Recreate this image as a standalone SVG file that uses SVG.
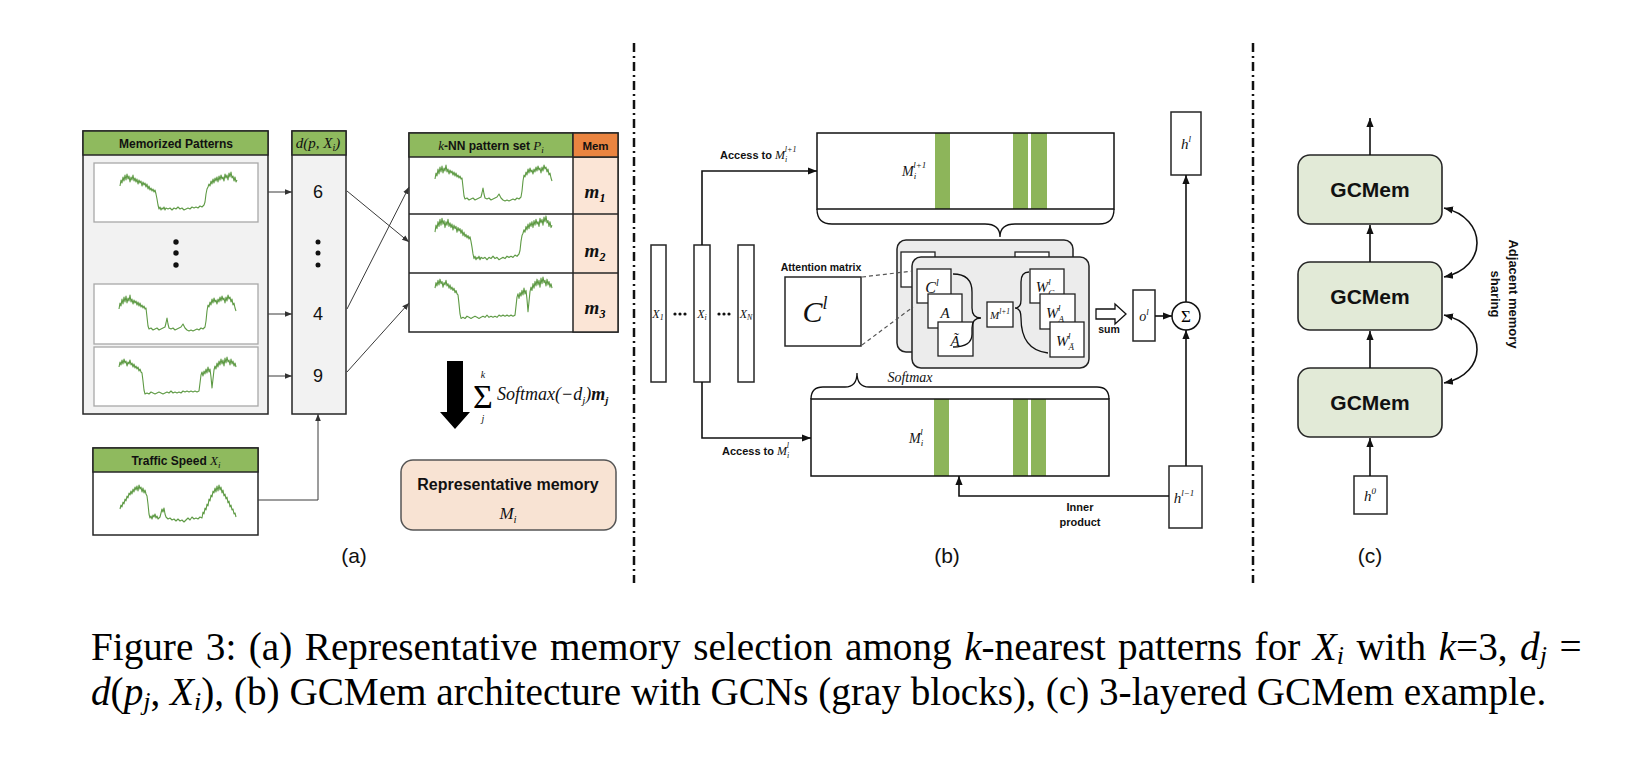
<svg xmlns="http://www.w3.org/2000/svg" width="1630" height="758" viewBox="0 0 1630 758">
<style>
.bx{fill:#fff;stroke:#262626;stroke-width:1.5}
.gr{fill:#f2f2f2;stroke:#262626;stroke-width:1.5}
.hd{fill:#8fba5e;stroke:#262626;stroke-width:1.5}
.pn{fill:#fff;stroke:#a8a8a8;stroke-width:1.3}
.wave{fill:none;stroke:#5e9a44;stroke-width:1.1;stroke-linejoin:round}
.b{font-family:"Liberation Sans",Arial,sans-serif;font-weight:bold;fill:#111}
.s{font-family:"Liberation Sans",Arial,sans-serif;fill:#111}
.m{font-family:"Liberation Serif","Times New Roman",serif;font-style:italic;font-weight:normal;fill:#111}
.r{font-family:"Liberation Serif","Times New Roman",serif;fill:#000}
.ca{fill:none;stroke:#3a3a3a;stroke-width:1}
.cb{fill:none;stroke:#111;stroke-width:1.6}
.br{fill:none;stroke:#111;stroke-width:1.3}
.stripe{fill:#8db55a}
.sep{fill:none;stroke:#111;stroke-width:2.5;stroke-dasharray:9 4 2 4}
.gcn{fill:#ececec;stroke:#222;stroke-width:1.5}
.sb{fill:#fff;stroke:#222;stroke-width:1.3}
.gcm{fill:#e2ead7;stroke:#262626;stroke-width:1.6}
.dash{fill:none;stroke:#555;stroke-width:1.2;stroke-dasharray:4 3}
</style>
<defs>
<marker id="arrA" markerUnits="userSpaceOnUse" markerWidth="7" markerHeight="7" viewBox="0 0 10 10" refX="10" refY="5" orient="auto"><path d="M0,1 L10,5 L0,9 z" fill="#333"/></marker>
<marker id="arrB" markerUnits="userSpaceOnUse" markerWidth="9" markerHeight="9" viewBox="0 0 10 10" refX="10" refY="5" orient="auto-start-reverse"><path d="M0,1 L10,5 L0,9 z" fill="#111"/></marker>
<path id="wA" d="M0,14 L1,8 2,11 3,5 4,9 5,3 6,8 7,2 8,7 9,4 10,10 11,5 12,8 13,3 14,9 15,6 16,10 17,7 18,12 19,8 20,11 21,9 22,14 23,10 24,13 25,11 26,15 27,12 28,17 29,14 30,18 31,16 32,19 33,17 34,20 35,18 36,22 37,27 38,33 39,37 40,35 41,38 42,36 43,37 44,35 45,38 46,36 48,37 50,36 52,38 54,36 56,37 58,35 60,37 62,36 64,38 66,37 68,36 70,37 72,35 74,36 76,35 78,36 80,34 82,35 84,33 85,30 86,22 87,17 88,15 89,12 90,14 91,9 92,12 93,7 94,11 95,6 96,9 97,5 98,10 99,4 100,8 101,3 102,7 103,5 104,9 105,2 106,6 107,3 108,8 109,1 110,5 111,0 112,6 113,4 114,9 115,5 116,10 117,8"/>
<path id="wB" d="M0,16 L1,10 2,13 3,6 4,11 5,4 6,9 7,3 8,10 9,5 10,8 11,2 12,9 13,6 14,11 15,7 16,10 17,8 18,12 19,9 20,13 21,10 22,14 23,12 24,15 25,13 26,16 27,15 28,24 29,33 30,36 32,35 34,37 36,36 38,35 40,37 42,36 44,35 46,34 47,30 48,25 49,31 50,35 52,36 54,35 56,37 58,36 60,35 62,34 64,31 65,33 66,35 68,37 70,38 72,37 74,38 76,37 78,36 80,37 82,35 84,36 86,34 87,28 88,18 89,12 90,14 91,9 92,12 93,6 94,10 95,5 96,9 97,7 98,11 99,6 100,9 101,4 102,8 103,3 104,7 105,5 106,10 107,4 108,8 109,2 110,6 111,4 112,9 113,6 114,12 115,10 116,15 117,18"/>
<path id="wC" d="M0,10 L1,5 2,8 3,3 4,7 5,2 6,6 7,4 8,9 9,5 10,7 11,3 12,8 13,6 14,10 15,7 16,11 17,9 18,12 19,10 20,14 21,12 22,15 23,16 24,24 25,33 26,37 28,36 30,37 32,35 34,36 36,37 38,36 40,35 42,36 44,37 46,36 48,35 50,36 52,34 54,36 56,35 58,36 60,35 62,36 64,34 66,35 68,34 70,35 72,34 74,35 76,34 78,35 80,34 81,26 82,18 83,15 84,19 85,14 86,17 87,12 88,16 89,10 90,15 91,12 92,20 93,31 94,22 95,13 96,9 97,12 98,6 99,10 100,4 101,8 102,2 103,7 104,3 105,9 106,1 107,6 108,0 109,5 110,3 111,8 112,2 113,7 114,4 115,9 116,6 117,10"/>
<path id="wD" d="M0,25 L1,21 2,23 3,18 4,20 5,15 6,17 7,12 8,14 9,9 10,11 11,7 12,10 13,5 14,8 15,3 16,6 17,2 18,7 19,1 20,5 21,3 22,8 23,4 24,9 25,6 26,10 27,12 28,20 29,30 30,34 31,32 32,35 33,31 34,33 35,30 36,34 37,32 38,35 40,33 42,25 43,28 44,24 45,30 46,33 48,35 50,34 52,36 54,35 56,37 58,35 60,37 62,36 64,38 66,36 68,34 70,36 72,33 74,35 76,34 78,35 80,33 82,34 83,28 84,30 85,24 86,26 87,20 88,22 89,15 90,17 91,11 92,13 93,7 94,9 95,4 96,8 97,2 98,7 99,1 100,6 101,3 102,9 103,6 104,12 105,10 106,15 107,13 108,19 109,17 110,23 111,21 112,26 113,25 114,30 115,29 116,33"/>
</defs>

<rect width="1630" height="758" fill="#fff"/>

<g id="separators">
<line x1="634" y1="43" x2="634" y2="583" class="sep"/>
<line x1="1253" y1="43" x2="1253" y2="583" class="sep"/>
</g>

<!-- Panel (a) -->
<g id="memorized-patterns">
<rect x="83" y="131" width="185" height="283" class="gr"/>
<rect x="83" y="131" width="185" height="24" class="hd"/>
<text x="176" y="147.5" class="b" font-size="12" text-anchor="middle">Memorized Patterns</text>
<rect x="94" y="163" width="164" height="59" class="pn"/>
<rect x="94" y="284" width="164" height="60" class="pn"/>
<rect x="94" y="347" width="164" height="59" class="pn"/>
<use href="#wA" transform="translate(120,172)" class="wave"/>
<use href="#wB" transform="translate(119,293)" class="wave"/>
<use href="#wC" transform="translate(119,357)" class="wave"/>
<circle cx="176" cy="242" r="2.7" fill="#111"/>
<circle cx="176" cy="253" r="2.7" fill="#111"/>
<circle cx="176" cy="265" r="2.7" fill="#111"/>
</g>

<g id="distance-column">
<rect x="292" y="131" width="54" height="283" class="gr"/>
<rect x="292" y="131" width="54" height="24" class="hd"/>
<text x="318" y="148" class="m" font-size="15" text-anchor="middle">d(p, X<tspan font-size="10" dy="3">i</tspan><tspan dy="-3">)</tspan></text>
<text x="318" y="198" class="s" font-size="18" text-anchor="middle">6</text>
<circle cx="318" cy="242" r="2.5" fill="#111"/>
<circle cx="318" cy="253" r="2.5" fill="#111"/>
<circle cx="318" cy="265" r="2.5" fill="#111"/>
<text x="318" y="320" class="s" font-size="18" text-anchor="middle">4</text>
<text x="318" y="382" class="s" font-size="18" text-anchor="middle">9</text>
</g>

<g id="knn-set">
<rect x="409" y="133" width="209" height="199" class="bx"/>
<rect x="573" y="157" width="45" height="175" fill="#fbe5d6" stroke="#262626" stroke-width="1.5"/>
<rect x="409" y="133" width="164" height="24" class="hd"/>
<rect x="573" y="133" width="45" height="24" fill="#ea8440" stroke="#262626" stroke-width="1.5"/>
<line x1="409" y1="214" x2="618" y2="214" stroke="#262626" stroke-width="1.5"/>
<line x1="409" y1="273" x2="618" y2="273" stroke="#262626" stroke-width="1.5"/>
<text x="491" y="149.5" font-size="12" text-anchor="middle"><tspan class="m" font-size="13">k</tspan><tspan class="b">-NN pattern set </tspan><tspan class="m" font-size="13">P</tspan><tspan class="m" font-size="9" dy="3">i</tspan></text>
<text x="595.5" y="149.5" class="b" font-size="11.5" text-anchor="middle">Mem</text>
<use href="#wB" transform="translate(435,163)" class="wave"/>
<use href="#wA" transform="translate(435,216) scale(1,1.15)" class="wave" vector-effect="non-scaling-stroke"/>
<use href="#wC" transform="translate(435,277) scale(1,1.12)" class="wave" vector-effect="non-scaling-stroke"/>
<text x="595" y="198" class="m" font-size="19" text-anchor="middle" style="font-weight:bold">m<tspan class="r" font-size="12" dy="4" style="font-weight:bold">1</tspan></text>
<text x="595" y="257" class="m" font-size="19" text-anchor="middle" style="font-weight:bold">m<tspan class="r" font-size="12" dy="4" style="font-weight:bold">2</tspan></text>
<text x="595" y="314" class="m" font-size="19" text-anchor="middle" style="font-weight:bold">m<tspan class="r" font-size="12" dy="4" style="font-weight:bold">3</tspan></text>
</g>

<g id="traffic-speed">
<rect x="93" y="448" width="165" height="87" class="bx"/>
<rect x="93" y="448" width="165" height="24" class="hd"/>
<text x="176" y="464.5" font-size="12" text-anchor="middle"><tspan class="b">Traffic Speed </tspan><tspan class="m" font-size="13">X</tspan><tspan class="m" font-size="9" dy="3">i</tspan></text>
<use href="#wD" transform="translate(120,484)" class="wave"/>
</g>

<g id="softmax-sum">
<polygon points="447,361 463,361 463,412 470,412 455,429 440,412 447,412" fill="#000"/>
<text x="483" y="408" class="r" font-size="34" text-anchor="middle">Σ</text>
<text x="483" y="378" class="m" font-size="10" text-anchor="middle">k</text>
<text x="483" y="422" class="m" font-size="10" text-anchor="middle">j</text>
<text x="497" y="400" class="m" font-size="18">Softmax(−d<tspan font-size="11" dy="4">j</tspan><tspan dy="-4">)</tspan><tspan style="font-weight:bold">m</tspan><tspan font-size="11" dy="4" style="font-weight:bold">j</tspan></text>
</g>

<g id="representative-memory">
<rect x="401" y="460" width="215" height="70" rx="12" fill="#f8e3d3" stroke="#555" stroke-width="1.5"/>
<text x="508" y="490" class="b" font-size="16" text-anchor="middle">Representative memory</text>
<text x="508" y="519" class="m" font-size="17" text-anchor="middle">M<tspan font-size="11" dy="4">i</tspan></text>
</g>

<g id="connectors-a">
<line x1="268" y1="192" x2="292" y2="192" class="ca" marker-end="url(#arrA)"/>
<line x1="268" y1="314" x2="292" y2="314" class="ca" marker-end="url(#arrA)"/>
<line x1="268" y1="376" x2="292" y2="376" class="ca" marker-end="url(#arrA)"/>
<line x1="347" y1="191" x2="409" y2="242" class="ca" marker-end="url(#arrA)"/>
<line x1="347" y1="309" x2="409" y2="187" class="ca" marker-end="url(#arrA)"/>
<line x1="347" y1="372" x2="409" y2="303" class="ca" marker-end="url(#arrA)"/>
<polyline points="258,500 318,500 318,414" class="ca" marker-end="url(#arrA)"/>
</g>

<!-- Panel (b) -->
<g id="inputs">
<rect x="651" y="245" width="15" height="137" class="bx"/>
<rect x="694" y="245" width="16" height="137" class="bx"/>
<rect x="738" y="245" width="16" height="137" class="bx"/>
<text x="658" y="318" class="m" font-size="12" text-anchor="middle">X<tspan font-size="8" dy="2">1</tspan></text>
<text x="702" y="318" class="m" font-size="12" text-anchor="middle">X<tspan font-size="8" dy="2">i</tspan></text>
<text x="746" y="318" class="m" font-size="12" text-anchor="middle">X<tspan font-size="8" dy="2">N</tspan></text>
<circle cx="675" cy="314" r="1.6" fill="#111"/><circle cx="680" cy="314" r="1.6" fill="#111"/><circle cx="685" cy="314" r="1.6" fill="#111"/>
<circle cx="719" cy="314" r="1.6" fill="#111"/><circle cx="724" cy="314" r="1.6" fill="#111"/><circle cx="729" cy="314" r="1.6" fill="#111"/>
</g>

<g id="memory-next">
<rect x="817" y="133" width="297" height="76" fill="#fff"/>
<rect x="935" y="133" width="15" height="76" class="stripe"/>
<rect x="1013" y="133" width="15" height="76" class="stripe"/>
<rect x="1031" y="133" width="16" height="76" class="stripe"/>
<rect x="817" y="133" width="297" height="76" fill="none" stroke="#111" stroke-width="1.5"/>
<text x="902" y="176" class="m" font-size="14">M<tspan font-size="9" dy="3">i</tspan><tspan font-size="9" dx="-3" dy="-11">l+1</tspan></text>
<path d="M817,209 Q817,224 832,224 L985,224 Q1000,224 1000,237 Q1000,224 1015,224 L1099,224 Q1114,224 1114,209" class="br"/>
</g>

<g id="memory-cur">
<rect x="811" y="399" width="298" height="77" fill="#fff"/>
<rect x="934" y="399" width="15" height="77" class="stripe"/>
<rect x="1013" y="399" width="15" height="77" class="stripe"/>
<rect x="1031" y="399" width="15" height="77" class="stripe"/>
<rect x="811" y="399" width="298" height="77" fill="none" stroke="#111" stroke-width="1.5"/>
<text x="909" y="443" class="m" font-size="14">M<tspan font-size="9" dy="3">i</tspan><tspan font-size="9" dx="-3" dy="-11">l</tspan></text>
<path d="M811,399 Q811,387 823,387 L845,387 Q857,387 857,373 Q857,387 869,387 L1097,387 Q1109,387 1109,399" class="br"/>
<text x="910" y="382" class="m" font-size="14" text-anchor="middle">Softmax</text>
</g>

<g id="attention-matrix">
<text x="821" y="271" class="b" font-size="10.5" text-anchor="middle">Attention matrix</text>
<rect x="785" y="277" width="76" height="69" class="bx"/>
<text x="815" y="322" class="m" font-size="30" text-anchor="middle">C<tspan font-size="18" dy="-13">l</tspan></text>
</g>

<g id="gcn-blocks">
<rect x="897" y="240" width="176" height="112" rx="9" class="gcn"/>
<rect x="901" y="252" width="34" height="35" class="sb"/>
<rect x="1015" y="252" width="34" height="35" class="sb"/>
<rect x="912" y="257" width="177" height="111" rx="9" class="gcn"/>
<rect x="917" y="269" width="34" height="34" class="sb"/>
<text x="932" y="293" class="m" font-size="16" text-anchor="middle">C<tspan font-size="10" dy="-7">l</tspan></text>
<rect x="928" y="294" width="34" height="34" class="sb"/>
<text x="945" y="318" class="m" font-size="15" text-anchor="middle">A</text>
<rect x="938" y="322" width="35" height="34" class="sb"/>
<text x="955" y="346" class="m" font-size="15" text-anchor="middle">Ã</text>
<path d="M953,274 Q972,274 972,292 L972,308 Q972,318 981,318 Q972,318 972,328 L972,334 Q972,347 953,347" class="br"/>
<rect x="987" y="302" width="26" height="25" class="sb"/>
<text x="1000" y="319" class="m" font-size="11" text-anchor="middle">M<tspan font-size="7.5" dy="-5">l+1</tspan></text>
<path d="M1029,272 Q1021,272 1021,282 L1021,300 Q1021,308 1015,308 Q1021,308 1021,318 Q1021,350 1048,353" class="br"/>
<rect x="1030" y="269" width="34" height="34" class="sb"/>
<text x="1045" y="292" class="m" font-size="15" text-anchor="middle">W<tspan font-size="9" dy="4">C</tspan><tspan font-size="9" dx="-6" dy="-11">l</tspan></text>
<rect x="1040" y="294" width="35" height="35" class="sb"/>
<text x="1055" y="318" class="m" font-size="15" text-anchor="middle">W<tspan font-size="9" dy="4">A</tspan><tspan font-size="9" dx="-6" dy="-11">l</tspan></text>
<rect x="1050" y="322" width="34" height="35" class="sb"/>
<text x="1065" y="346" class="m" font-size="15" text-anchor="middle">W<tspan font-size="9" dy="4">Ã</tspan><tspan font-size="9" dx="-6" dy="-11">l</tspan></text>
</g>

<g id="sum-output">
<polygon points="1096,309 1115,309 1115,304 1126,314 1115,324 1115,319 1096,319" fill="#fff" stroke="#111" stroke-width="1.3"/>
<text x="1109" y="333" class="b" font-size="10.5" text-anchor="middle">sum</text>
<rect x="1133" y="290" width="22" height="51" class="bx"/>
<text x="1144" y="321" class="m" font-size="14" text-anchor="middle">o<tspan font-size="9" dy="-6">l</tspan></text>
<circle cx="1186" cy="316" r="14" fill="#fff" stroke="#111" stroke-width="1.5"/>
<text x="1186" y="322" class="r" font-size="17" text-anchor="middle">Σ</text>
</g>

<g id="hidden-states">
<rect x="1171" y="112" width="30" height="63" class="bx"/>
<text x="1186" y="149" class="m" font-size="15" text-anchor="middle">h<tspan font-size="9" dy="-7">l</tspan></text>
<rect x="1169" y="466" width="33" height="62" class="bx"/>
<text x="1184" y="503" class="m" font-size="15" text-anchor="middle">h<tspan font-size="9" dy="-7">l−1</tspan></text>
</g>

<g id="connectors-b">
<polyline points="702,245 702,171 817,171" class="cb" marker-end="url(#arrB)"/>
<polyline points="702,382 702,438 811,438" class="cb" marker-end="url(#arrB)"/>
<line x1="862" y1="277" x2="913" y2="271" class="dash"/>
<line x1="862" y1="345" x2="913" y2="307" class="dash"/>
<line x1="1155" y1="316" x2="1172" y2="316" class="cb" marker-end="url(#arrB)"/>
<line x1="1186" y1="302" x2="1186" y2="175" class="cb" marker-end="url(#arrB)"/>
<line x1="1186" y1="466" x2="1186" y2="330" class="cb" marker-end="url(#arrB)"/>
<polyline points="1169,496 959,496 959,476" class="cb" marker-end="url(#arrB)"/>
<text x="720" y="159" class="b" font-size="11">Access to <tspan class="m" font-size="12">M</tspan><tspan class="m" font-size="8" dy="3">i</tspan><tspan class="m" font-size="8" dx="-2.5" dy="-10">l+1</tspan></text>
<text x="722" y="455" class="b" font-size="11">Access to <tspan class="m" font-size="12">M</tspan><tspan class="m" font-size="8" dy="3">i</tspan><tspan class="m" font-size="8" dx="-2.5" dy="-10">l</tspan></text>
<text x="1080" y="511" class="b" font-size="11" text-anchor="middle">Inner</text>
<text x="1080" y="526" class="b" font-size="11" text-anchor="middle">product</text>
</g>

<!-- Panel (c) -->
<g id="gcmem-3">
<rect x="1298" y="155" width="144" height="69" rx="12" class="gcm"/>
<text x="1370" y="197" class="b" font-size="21" text-anchor="middle">GCMem</text>
</g>
<g id="gcmem-2">
<rect x="1298" y="262" width="144" height="68" rx="12" class="gcm"/>
<text x="1370" y="303.5" class="b" font-size="21" text-anchor="middle">GCMem</text>
</g>
<g id="gcmem-1">
<rect x="1298" y="368" width="144" height="69" rx="12" class="gcm"/>
<text x="1370" y="410" class="b" font-size="21" text-anchor="middle">GCMem</text>
</g>
<g id="h0">
<rect x="1354" y="476" width="33" height="38" class="bx"/>
<text x="1370" y="501" class="m" font-size="15" text-anchor="middle">h<tspan font-size="9" dy="-7">0</tspan></text>
</g>
<g id="connectors-c">
<line x1="1370" y1="155" x2="1370" y2="118" class="cb" marker-end="url(#arrB)"/>
<line x1="1370" y1="262" x2="1370" y2="225" class="cb" marker-end="url(#arrB)"/>
<line x1="1370" y1="368" x2="1370" y2="331" class="cb" marker-end="url(#arrB)"/>
<line x1="1370" y1="476" x2="1370" y2="438" class="cb" marker-end="url(#arrB)"/>
<path d="M1444,208 C1488,218 1488,268 1444,277" class="cb" marker-start="url(#arrB)" marker-end="url(#arrB)"/>
<path d="M1444,315 C1488,325 1488,374 1444,383" class="cb" marker-start="url(#arrB)" marker-end="url(#arrB)"/>
<text transform="translate(1513,294) rotate(90)" class="b" font-size="13" text-anchor="middle"><tspan x="0" y="4.5">Adjacent memory</tspan><tspan x="0" y="22.5">sharing</tspan></text>
</g>

<g id="panel-labels">
<text x="354" y="563" class="s" font-size="21" text-anchor="middle">(a)</text>
<text x="947" y="563" class="s" font-size="21" text-anchor="middle">(b)</text>
<text x="1370" y="563" class="s" font-size="21" text-anchor="middle">(c)</text>
</g>

<g id="caption">
<text x="91" y="660" class="r" font-size="39.2" word-spacing="2.7">Figure 3: (a) Representative memory selection among <tspan font-style="italic">k</tspan>-nearest patterns for <tspan font-style="italic">X</tspan><tspan font-style="italic" font-size="26" dy="4">i</tspan><tspan dy="-4"> with </tspan><tspan font-style="italic">k</tspan>=3, <tspan font-style="italic">d</tspan><tspan font-style="italic" font-size="26" dy="4">j</tspan><tspan dy="-4"> =</tspan></text>
<text x="91" y="705" class="r" font-size="39.2"><tspan font-style="italic">d</tspan>(<tspan font-style="italic">p</tspan><tspan font-style="italic" font-size="26" dy="5">j</tspan><tspan dy="-5">, </tspan><tspan font-style="italic">X</tspan><tspan font-style="italic" font-size="26" dy="5">i</tspan><tspan dy="-5">), (b) GCMem architecture with GCNs (gray blocks), (c) 3-layered GCMem example.</tspan></text>
</g>
</svg>
